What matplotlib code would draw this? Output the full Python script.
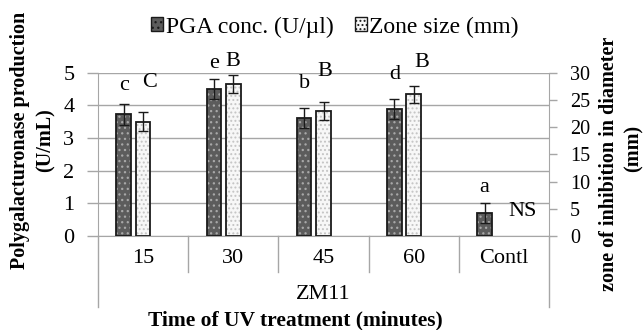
import matplotlib
matplotlib.use('Agg')
import matplotlib.pyplot as plt
import numpy as np
from matplotlib.patches import Patch
from matplotlib.transforms import blended_transform_factory

plt.rcParams['font.family'] = ['Liberation Serif', 'DejaVu Serif']
plt.rcParams['hatch.linewidth'] = 0.9

# values
categories = ['15', '30', '45', '60', 'Contl']
group_label = 'ZM11'
pga = [3.73, 4.50, 3.62, 3.88, 0.70]          # U/mL, left axis
pga_err = [0.32, 0.31, 0.31, 0.31, 0.30]
zone = [21.0, 27.9, 23.0, 26.0, 0.0]          # mm, right axis
zone_err = [1.7, 1.7, 1.6, 1.6, 0.0]
pga_letters = ['c', 'e', 'b', 'd', 'a']
zone_letters = ['C', 'B', 'B', 'B', 'NS']

# where the significance letters sit (left-axis units / x offset from category)
pga_letter_y = [4.60, 5.28, 4.66, 4.94, 1.50]
zone_letter_y = [4.69, 5.34, 5.03, 5.31, 0.74]
zone_letter_dx = [0.07, 0.0, 0.02, 0.09, 0.21]

GRID = '#a6a6a6'
FS = 16      # horizontal text
FSV = 14.5   # rotated axis titles

fig = plt.figure(figsize=(6.43, 3.30), dpi=100)
ax = fig.add_axes([98/643, 1 - 236/330, 451/643, 163.3/330])
ax2 = ax.twinx()

x = np.arange(len(categories))
w = 0.16
off_pga = -0.215
off_zone = 0.0

# PGA bars: dark fill with light dots, then black outline
ax.bar(x + off_pga, pga, w, color='#5c5c5c', edgecolor='#a8a8a8', hatch='...', linewidth=0, zorder=2)
ax.bar(x + off_pga, pga, w, fill=False, edgecolor='#1a1a1a', linewidth=1.3, zorder=3)
ax.errorbar(x + off_pga, pga, yerr=pga_err, fmt='none', ecolor='#1a1a1a', elinewidth=1.0, capsize=3.5, capthick=1.0, zorder=4)

zmask = np.array(zone) > 0
zx = (x + off_zone)[zmask]
zv = np.array(zone)[zmask]
ze = np.array(zone_err)[zmask]
ax2.bar(zx, zv, w, color='#f7f7f7', edgecolor='#c4c4c4', hatch='....', linewidth=0, zorder=2)
ax2.bar(zx, zv, w, fill=False, edgecolor='#1a1a1a', linewidth=1.3, zorder=3)
ax2.errorbar(zx, zv, yerr=ze, fmt='none', ecolor='#1a1a1a', elinewidth=1.0, capsize=3.5, capthick=1.0, zorder=4)

ax.set_xlim(-0.5, len(categories) - 0.5)
ax.set_ylim(0, 5)
ax2.set_ylim(0, 30)
ax.set_yticks(range(0, 6))
ax2.set_yticks(range(0, 31, 5))
ax.set_xticks([])

ax.yaxis.grid(True, color=GRID, linewidth=1.0)
ax.set_axisbelow(True)
for a in (ax, ax2):
    for s in a.spines.values():
        s.set_visible(False)
ax.spines['left'].set_visible(True)
ax.spines['left'].set_color(GRID)
ax.spines['bottom'].set_visible(True)
ax.spines['bottom'].set_color(GRID)
ax2.spines['right'].set_visible(True)
ax2.spines['right'].set_color(GRID)

ax.tick_params(axis='y', length=8, width=1, color=GRID, labelsize=FS, pad=9)
ax2.tick_params(axis='y', length=6, width=1, color=GRID, labelsize=14.5, pad=9)

# category axis drawn by hand (two levels, like the spreadsheet)
tr = blended_transform_factory(ax.transData, ax.transAxes)
for b in np.arange(0.5, len(categories) - 0.5, 1):
    ax.plot([b, b], [0, -0.22], color=GRID, lw=1, transform=tr, clip_on=False)
for b in (-0.5, len(categories) - 0.5):
    ax.plot([b, b], [0, -0.435], color=GRID, lw=1, transform=tr, clip_on=False)
for i, c in enumerate(categories):
    ax.text(i, -0.135, c, transform=tr, ha='center', va='center', fontsize=FS)
ax.text((len(categories) - 1) / 2, -0.36, group_label, transform=tr, ha='center', va='center', fontsize=FS)

fig.text(295/643, 1 - 320/330, 'Time of UV treatment (minutes)', ha='center', va='center',
         fontsize=15.5, fontweight='bold')

# significance letters
for i in range(len(categories)):
    ax.text(i + off_pga, pga_letter_y[i], pga_letters[i], ha='center', va='center', fontsize=FS)
    ax.text(i + off_zone + zone_letter_dx[i], zone_letter_y[i], zone_letters[i], ha='center', va='center', fontsize=FS)

# axis titles
fig.text(20/643, 1 - 140/330, 'Polygalacturonase production', rotation=90, ha='center', va='center',
         fontsize=FSV, fontweight='bold')
fig.text(46/643, 1 - 140/330, '(U/mL)', rotation=90, ha='center', va='center',
         fontsize=FSV, fontweight='bold')
fig.text(609/643, 1 - 164/330, 'zone of inhibition in diameter', rotation=90, ha='center', va='center',
         fontsize=FSV, fontweight='bold')
fig.text(634/643, 1 - 148/330, '(mm)', rotation=90, ha='center', va='center',
         fontsize=FSV, fontweight='bold')

handles = [Patch(facecolor='#5c5c5c', edgecolor='#1a1a1a', hatch='...', linewidth=1),
           Patch(facecolor='#f7f7f7', edgecolor='#1a1a1a', hatch='....', linewidth=1)]
fig.legend(handles, ['PGA conc. (U/\u00b5l)', 'Zone size (mm)'], loc='center',
           bbox_to_anchor=(335/643, 1 - 27/330), ncol=2, frameon=False, fontsize=17,
           handlelength=0.5, handleheight=0.5, handletextpad=0.12, columnspacing=0.9,
           borderaxespad=0)

fig.savefig('out.png', dpi=100)
